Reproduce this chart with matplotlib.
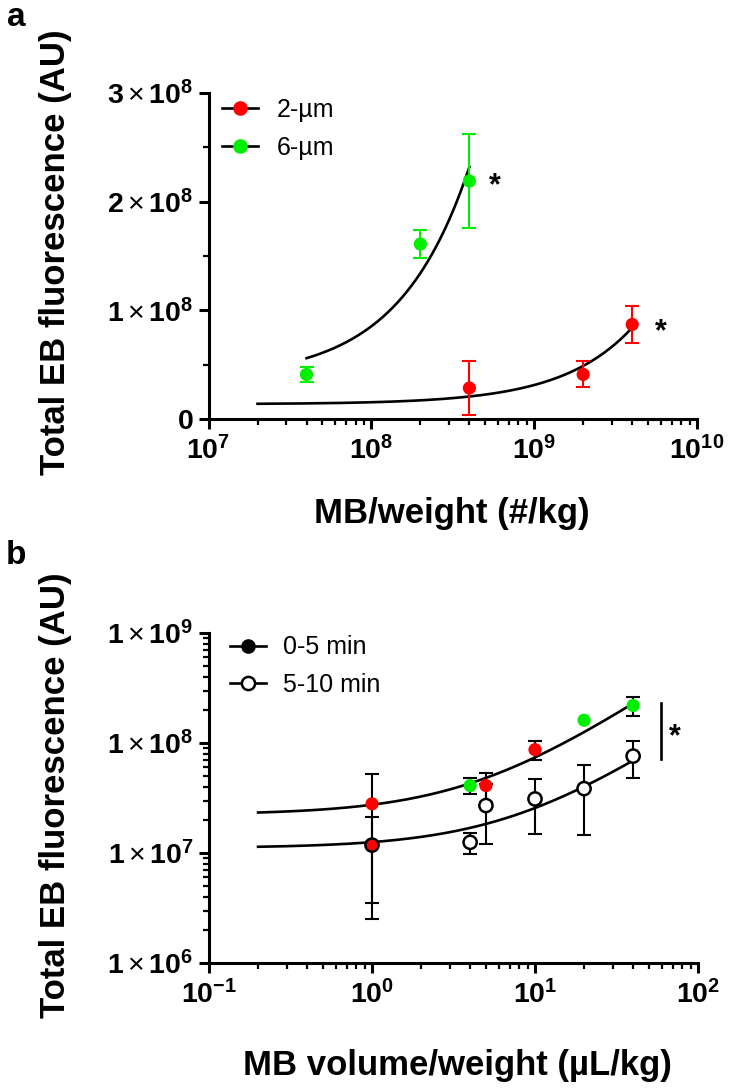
import numpy as np
import matplotlib
matplotlib.use("Agg")
import matplotlib.pyplot as plt
from matplotlib.ticker import LogLocator, NullFormatter, FixedLocator
from matplotlib.lines import Line2D

plt.rcParams['font.family'] = ['Liberation Sans', 'DejaVu Sans']
plt.rcParams['mathtext.fontset'] = 'custom'
plt.rcParams['mathtext.rm'] = 'Liberation Sans'
plt.rcParams['mathtext.it'] = 'Liberation Sans:italic'
plt.rcParams['mathtext.bf'] = 'Liberation Sans:bold'

RED = '#ff0000'
GREEN = '#00ee00'

# ---------------- Panel a data ----------------
mb_2um = [4e8, 2e9, 4e9]
eb_2um = [0.285e8, 0.41e8, 0.87e8]
sem_2um = [0.245e8, 0.12e8, 0.17e8]

mb_6um = [4e7, 2e8, 4e8]
eb_6um = [0.41e8, 1.61e8, 2.19e8]
sem_6um = [0.067e8, 0.13e8, 0.435e8]

# linear fits  y = intercept + slope * x
fit_2um_range = [2e7, 4e9]
fit_2um_params = [1.365e7, 0.0176]
fit_6um_range = [4e7, 4e8]
fit_6um_params = [0.364e8, 0.489]

a_xticks = [1e7, 1e8, 1e9, 1e10]
a_xticklabels = [r'$\mathbf{10^{7}}$', r'$\mathbf{10^{8}}$', r'$\mathbf{10^{9}}$', r'$\mathbf{10^{10}}$']
a_yticks = [0, 1e8, 2e8, 3e8]
a_yticklabels = [r'$\mathbf{0}$', r'$\mathbf{1}\times\mathbf{10^{8}}$',
                 r'$\mathbf{2}\times\mathbf{10^{8}}$', r'$\mathbf{3}\times\mathbf{10^{8}}$']
a_yminor = [0.5e8, 1.5e8, 2.5e8]
a_star_pos = [(5.7e8, 2.14e8), (6.0e9, 0.80e8)]

# ---------------- Panel b data ----------------
vol_early = [1, 4, 5, 10, 20, 40]
eb_early = [2.8e7, 4.1e7, 4.1e7, 8.7e7, 1.61e8, 2.19e8]
sem_early = [2.45e7, 0.67e7, 1.2e7, 1.7e7, 1.3e7, 4.4e7]
col_early = [RED, GREEN, RED, RED, GREEN, GREEN]
# error bars shorter than the symbol are not drawn (as in the original)
show_err_early = [True, True, True, True, False, True]

vol_late = [1, 4, 5, 10, 20, 40]
eb_late = [1.18e7, 1.25e7, 2.7e7, 3.1e7, 3.85e7, 7.6e7]
sem_late = [0.93e7, 0.27e7, 1.5e7, 1.6e7, 2.4e7, 2.8e7]
face_late = [RED, 'white', 'white', 'white', 'white', 'white']

fit_early_range = [0.2, 40]
fit_early_params = [2.23e7, 5.17e6]
fit_late_range = [0.2, 40]
fit_late_params = [1.11e7, 1.455e6]

b_xticks = [0.1, 1, 10, 100]
b_xticklabels = [r'$\mathbf{10^{-1}}$', r'$\mathbf{10^{0}}$', r'$\mathbf{10^{1}}$', r'$\mathbf{10^{2}}$']
b_yticks = [1e6, 1e7, 1e8, 1e9]
b_yticklabels = [r'$\mathbf{1}\times\mathbf{10^{6}}$', r'$\mathbf{1}\times\mathbf{10^{7}}$',
                 r'$\mathbf{1}\times\mathbf{10^{8}}$', r'$\mathbf{1}\times\mathbf{10^{9}}$']
b_sig_x = 59
b_sig_y = [7.2e7, 2.29e8]
b_star_pos = (72, 1.12e8)

W, H = 731, 1089
fig = plt.figure(figsize=(W / 100, H / 100), dpi=100)

def px_axes(l, t, r, b):
    return fig.add_axes([l / W, 1 - b / H, (r - l) / W, (b - t) / H])

ax_a = px_axes(208.5, 93, 697, 419)
ax_b = px_axes(209.0, 633, 698, 963)

LW_SP = 2.2
TICK_FS = 20.5
LAB_FS = 25
MS = 9.5
ELW = 1.5
CAP = 4.7

def style(ax):
    for s in ['top', 'right']:
        ax.spines[s].set_visible(False)
    for s in ['left', 'bottom']:
        ax.spines[s].set_linewidth(LW_SP)
    ax.tick_params(which='major', direction='out', length=7, width=LW_SP, labelsize=TICK_FS)
    ax.tick_params(which='minor', direction='out', length=4, width=1.6)
    ax.tick_params(axis='x', which='major', pad=5)
    ax.tick_params(axis='y', which='major', pad=4)

def fitcurve(ax, rng, params):
    x = np.logspace(np.log10(rng[0]), np.log10(rng[1]), 200)
    ax.plot(x, params[0] + params[1] * x, color='black', lw=1.9, zorder=2)

# ---------------- Panel a ----------------
ax = ax_a
ax.set_xscale('log')
ax.set_xlim(1e7, 1e10)
ax.set_ylim(0, 3e8)
fitcurve(ax, fit_2um_range, fit_2um_params)
fitcurve(ax, fit_6um_range, fit_6um_params)
for xs, ys, es, c in [(mb_2um, eb_2um, sem_2um, RED), (mb_6um, eb_6um, sem_6um, GREEN)]:
    ax.errorbar(xs, ys, yerr=es, fmt='none', ecolor=c, elinewidth=ELW,
                capsize=CAP, capthick=ELW, zorder=3)
    ax.scatter(xs, ys, s=MS ** 2, c=c, edgecolors='none', zorder=4)
for (sx, sy) in a_star_pos:
    ax.text(sx, sy, '*', fontsize=22, fontweight='bold', ha='center', va='center')
style(ax)
ax.set_xticks(a_xticks)
ax.set_xticklabels(a_xticklabels)
ax.xaxis.set_minor_locator(LogLocator(base=10, subs=np.arange(2, 10), numticks=20))
ax.xaxis.set_minor_formatter(NullFormatter())
ax.set_yticks(a_yticks)
ax.set_yticklabels(a_yticklabels)
ax.yaxis.set_minor_locator(FixedLocator(a_yminor))
ha = [Line2D([], [], color='black', lw=1.9, marker='o', mfc=RED, mec=RED, ms=MS),
      Line2D([], [], color='black', lw=1.9, marker='o', mfc=GREEN, mec=GREEN, ms=MS)]
ax.legend(ha, ['2-µm', '6-µm'], loc='upper left', bbox_to_anchor=(0.028, 0.985),
          frameon=False, fontsize=18, handlelength=1.45, handletextpad=0.72,
          labelspacing=0.55, borderpad=0, borderaxespad=0)

# ---------------- Panel b ----------------
ax = ax_b
ax.set_xscale('log')
ax.set_yscale('log')
ax.set_xlim(0.1, 100)
ax.set_ylim(1e6, 1e9)
fitcurve(ax, fit_early_range, fit_early_params)
fitcurve(ax, fit_late_range, fit_late_params)
ax.errorbar(vol_late, eb_late, yerr=sem_late, fmt='none', ecolor='black',
            elinewidth=ELW, capsize=CAP, capthick=ELW, zorder=3)
ax.scatter(vol_late, eb_late, s=MS ** 2, c=face_late, edgecolors='black',
            linewidths=1.8, zorder=4)
ex = [v for v, s in zip(vol_early, show_err_early) if s]
ey = [v for v, s in zip(eb_early, show_err_early) if s]
ee = [v for v, s in zip(sem_early, show_err_early) if s]
ax.errorbar(ex, ey, yerr=ee, fmt='none', ecolor='black',
            elinewidth=ELW, capsize=CAP, capthick=ELW, zorder=3)
ax.scatter(vol_early, eb_early, s=MS ** 2, c=col_early, edgecolors='none', zorder=5)
ax.plot([b_sig_x, b_sig_x], b_sig_y, color='black', lw=1.9, clip_on=False)
ax.text(b_star_pos[0], b_star_pos[1], '*', fontsize=22, fontweight='bold',
        ha='center', va='center')
style(ax)
ax.set_xticks(b_xticks)
ax.set_xticklabels(b_xticklabels)
ax.xaxis.set_minor_locator(LogLocator(base=10, subs=np.arange(2, 10), numticks=20))
ax.xaxis.set_minor_formatter(NullFormatter())
ax.set_yticks(b_yticks)
ax.set_yticklabels(b_yticklabels)
ax.yaxis.set_minor_locator(LogLocator(base=10, subs=np.arange(2, 10), numticks=20))
ax.yaxis.set_minor_formatter(NullFormatter())
hb = [Line2D([], [], color='black', lw=1.9, marker='o', mfc='black', mec='black', ms=MS),
      Line2D([], [], color='black', lw=1.9, marker='o', mfc='white', mec='black', mew=1.8, ms=MS)]
ax.legend(hb, ['0-5 min', '5-10 min'], loc='upper left', bbox_to_anchor=(0.042, 0.993),
          frameon=False, fontsize=18, handlelength=1.45, handletextpad=0.7,
          labelspacing=0.55, borderpad=0, borderaxespad=0)

# ---------------- Labels ----------------
def ftext(x, y, s, **kw):
    fig.text(x / W, 1 - y / H, s, **kw)

ftext(16, 18, 'a', fontsize=24, fontweight='bold', ha='center', va='center')
ftext(16, 556, 'b', fontsize=24, fontweight='bold', ha='center', va='center')
ftext(56, 252, 'Total EB fluorescence (AU)', fontsize=LAB_FS, fontweight='bold',
      rotation=90, ha='center', va='center')
ftext(56, 795, 'Total EB fluorescence (AU)', fontsize=LAB_FS, fontweight='bold',
      rotation=90, ha='center', va='center')
ftext(452, 513, 'MB/weight (#/kg)', fontsize=LAB_FS, fontweight='bold', ha='center', va='center')
ftext(457, 1066, 'MB volume/weight (µL/kg)', fontsize=LAB_FS, fontweight='bold',
      ha='center', va='center')

fig.savefig('out.png', dpi=100)
